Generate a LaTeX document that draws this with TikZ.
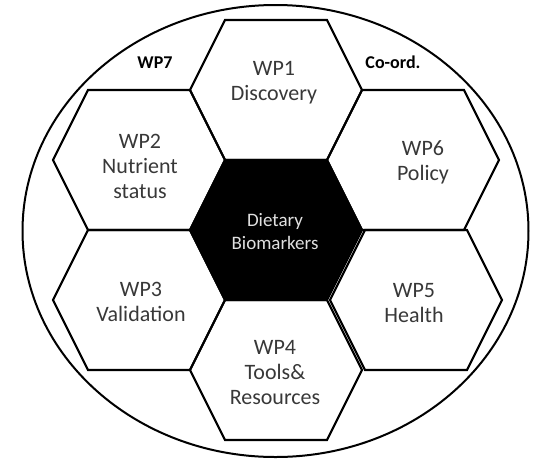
\documentclass[tikz,border=0pt]{standalone}
\usepackage{fontspec}
\setmainfont{Carlito}
\newcommand{\hexpath}{(-86,0) -- (-51,-70) -- (51,-70) -- (86,0) -- (51,70) -- (-51,70) -- cycle}
\begin{document}
\begin{tikzpicture}
  [x=1pt,y=-1pt,
   hexline/.style={draw=black,line width=2.2pt,line join=miter},
   outline/.style={draw=black,line width=2pt},
   wptext/.style={align=center,text=black!78,inner sep=0,
                  font=\fontsize{22}{25}\selectfont},
   coretext/.style={align=center,text=white!88!black,inner sep=0,
                    font=\fontsize{19}{23}\selectfont},
   cornertext/.style={text=black,inner sep=0,
                      font=\fontsize{18}{22}\selectfont\bfseries}]
  \useasboundingbox (0,0) rectangle (539,459);
  \coordinate (core) at (276,230);
  \coordinate (wp1) at (276,90);
  \coordinate (wp2) at (139,160);
  \coordinate (wp3) at (139,300);
  \coordinate (wp4) at (276,370);
  \coordinate (wp5) at (416,300);
  \coordinate (wp6) at (413,160);
  \draw[outline] (275.5,231) ellipse [x radius=253,y radius=226];
  \draw[hexline,fill=black,shift={(core)}] \hexpath;
  \draw[hexline,shift={(wp1)}] \hexpath;
  \draw[hexline,shift={(wp2)}] \hexpath;
  \draw[hexline,shift={(wp3)}] \hexpath;
  \draw[hexline,shift={(wp4)}] \hexpath;
  \draw[hexline,shift={(wp6)}] \hexpath;
  \draw[hexline,shift={(wp5)}] \hexpath;
  \node[coretext] (coretxt) at (275,232) {Dietary\\Biomarkers};
  \node[wptext] (wp1txt) at (274,83) {WP1\\Discovery};
  \node[wptext] (wp2txt) at (140,166) {WP2\\Nutrient\\status};
  \node[wptext] (wp3txt) at (141,302) {WP3\\Validation};
  \node[wptext] (wp4txt) at (275,373) {WP4\\Tools\&\\Resources};
  \node[wptext] (wp5txt) at (414,303) {WP5\\Health};
  \node[wptext] (wp6txt) at (423,162) {WP6\\Policy};
  \node[cornertext] (wp7txt) at (155,63) {WP7};
  \node[cornertext] (coordtxt) at (393,62) {Co-ord.};
\end{tikzpicture}
\end{document}
